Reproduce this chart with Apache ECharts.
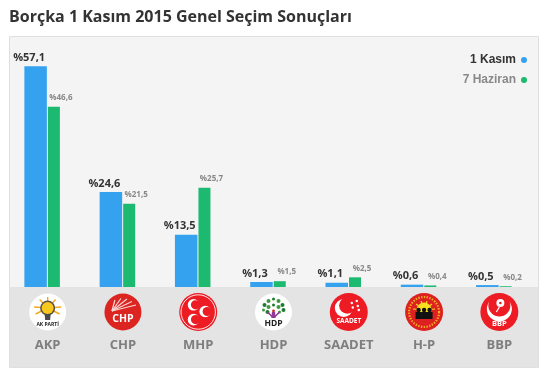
<!DOCTYPE html>
<html>
<head>
<meta charset="utf-8">
<style>html,body{margin:0;padding:0;background:#fff}#c{width:550px;height:385px}</style>
<script src="https://cdn.jsdelivr.net/npm/echarts@6/dist/echarts.min.js"></script>
</head>
<body>
<div id="c"></div>
<script>
const categories = ['AKP','CHP','MHP','HDP','SAADET','H-P','BBP'];
const kasim = [57.1,24.6,13.5,1.3,1.1,0.6,0.5];
const haziran = [46.6,21.5,25.7,1.5,2.5,0.4,0.2];
const seriesNames = ['1 Kasım','7 Haziran'];
const titleText = 'Borçka 1 Kasım 2015 Genel Seçim Sonuçları';

const gridLeft = 10, gridWidth = 527, gridBottomY = 287, gridTopY = 55;
const step = gridWidth / categories.length;
const logoY = 312;
const RED = '#ed1c24';

const pct = v => '%' + String(v).replace('.', ',');
const circ = (cx,cy,r,fill,extra) => Object.assign({type:'circle',shape:{cx,cy,r},style:{fill}},extra||{});
const ring = (cx,cy,r,stroke,lw,dash) => ({type:'circle',shape:{cx,cy,r},style:{fill:'none',stroke,lineWidth:lw,lineDash:dash||null}});
const txt = (x,y,text,size,fill,family) => ({type:'text',x,y,style:{text,fill,font:'bold '+size+'px '+(family||'"Open Sans"'),align:'center',verticalAlign:'middle'}});
const poly = (points,fill) => ({type:'polygon',shape:{points},style:{fill}});
const line = (x1,y1,x2,y2,stroke,lw) => ({type:'line',shape:{x1,y1,x2,y2},style:{stroke,lineWidth:lw}});

function akp(){
  const c=[circ(0,0,18.5,'#fff')];
  const rays=[[0,-15],[-8,-12.5],[8,-12.5],[-13.5,-5],[13.5,-5],[-12,2],[12,2]];
  rays.forEach(p=>c.push(line(0,-4,p[0],p[1],'#f6a81c',1.4)));
  c.push(circ(0,-4,7.5,'#5a5048'));
  c.push(circ(0,-4,6,'#f9c81e'));
  c.push(poly([[-3,2],[3,2],[2.5,8],[-2.5,8]],'#4a4a4a'));
  c.push(txt(0,13,'AK PARTİ',5,'#222'));
  return c;
}
function chp(){
  const c=[circ(0,0,18.5,'#dc2420')];
  [[-10,-13],[-4,-14.5],[2,-14],[7,-11.5],[11,-8]].forEach(p=>c.push(line(-11,-1,p[0]+2,p[1]+1,'#f6d9d6',1.2)));
  c.push(txt(0,7.5,'CHP',10.5,'#fff'));
  return c;
}
function mhp(){
  const c=[circ(0,0,19,RED),ring(0,0,17.2,'#fff',0.9)];
  [[-4.7,-7.2],[7,-0.5],[-4.7,7.6]].forEach(p=>{
    c.push(circ(p[0],p[1],5.8,'#fff'));
    c.push(circ(p[0]+2,p[1],4.6,RED));
  });
  return c;
}
function hdp(){
  const c=[circ(0,0,18.5,'#fff')];
  [[-9,-7],[-5,-11],[0,-13],[5,-11],[9,-7],[-10,-2],[10,-2],[-5,-5],[0,-7],[5,-5],[-6,0],[6,0]].forEach((p,i)=>
    c.push(circ(p[0],p[1],i%3===2?1.5:2,i%2?'#3d9a3c':'#1f7a33')));
  c.push(circ(0,-1,1.4,'#d2232a'));
  c.push(poly([[-1.6,0],[1.6,0],[2,6],[-2,6]],'#8e3a96'));
  c.push(line(-1,5,-6,0,'#8e3a96',1.6));
  c.push(line(1,5,6,0,'#8e3a96',1.6));
  c.push(txt(0,11.5,'HDP',8.5,'#222'));
  return c;
}
function saadet(){
  const c=[circ(0,0,19,RED)];
  c.push(circ(-5,-4,9,'#fff'));
  c.push(circ(-1.5,-6.5,8.2,RED));
  [[3,-9],[8,-11],[9,-6],[4,-4.5],[10,-2]].forEach(p=>c.push(circ(p[0],p[1],1.2,'#fff')));
  c.push(txt(0,9.5,'SAADET',6.5,'#fff'));
  return c;
}
function hp(){
  const c=[circ(0,0,19,'#dd2020'),ring(0,0,15,'#f0b020',2.2,[1.4,1.4])];
  [[-11,-3],[-8,-8],[-3,-11],[3,-11],[8,-8],[11,-3]].forEach(p=>c.push(line(0,-2,p[0],p[1],'#f8d81e',1.2)));
  c.push(circ(0,-2,7.5,'#f8e01e'));
  [-5.5,0,5.5].forEach(x=>{
    c.push(circ(x,-2,2.2,'#111'));
    c.push(poly([[x-3,0],[x+3,0],[x+3,7],[x-3,7]],'#111'));
  });
  return c;
}
function bbp(){
  const c=[circ(0,0,19,RED)];
  c.push(circ(0,-3,12.5,'#fff'));
  c.push(circ(0,-6.5,11,RED));
  c.push(circ(1,-9,4,'#fff'));
  c.push(circ(1,-9,1.3,RED));
  c.push(line(0,-5,-3,0,'#fff',1.3));
  c.push(txt(0,12,'BBP',7.5,'#fff'));
  return c;
}
const logos=[akp,chp,mhp,hdp,saadet,hp,bbp].map((fn,i)=>({
  type:'group',x:gridLeft+step*(i+0.5),y:logoY,z:5,silent:true,children:fn()
}));

const chart = echarts.init(document.getElementById('c'),null,{renderer:'canvas'});
chart.setOption({
  animation:false,
  backgroundColor:'#fff',
  title:{text:titleText,left:9,top:9.5,padding:0,textStyle:{fontFamily:'"Open Sans"',fontWeight:'bold',fontSize:16,color:'#333'}},
  legend:{
    data:[
      {name:seriesNames[0],textStyle:{color:'#333'}},
      {name:seriesNames[1],textStyle:{color:'#888'}}
    ],
    orient:'vertical',right:23,top:54,align:'right',itemWidth:6,itemHeight:6,itemGap:8,icon:'circle',selectedMode:false,
    padding:0,
    textStyle:{fontFamily:'"Liberation Sans"',fontWeight:'bold',fontSize:12,padding:[0,0,0,0]}
  },
  grid:{left:gridLeft,width:gridWidth,top:gridTopY,height:gridBottomY-gridTopY,containLabel:false},
  xAxis:{
    type:'category',data:categories,
    axisLine:{show:false},axisTick:{show:false},splitLine:{show:false},
    axisLabel:{interval:0,margin:52,fontFamily:'"Open Sans"',fontWeight:'bold',fontSize:13,color:'#7e7e7e'}
  },
  yAxis:{type:'value',min:0,max:60,show:false,splitLine:{show:false}},
  graphic:[
    {type:'rect',z:-10,shape:{x:9.5,y:36.5,width:529,height:331},style:{fill:'#f4f4f4',stroke:'#dfdfdf',lineWidth:1}},
    {type:'rect',z:-9,shape:{x:10,y:287,width:528,height:80},style:{fill:'#e4e4e4'}}
  ].concat(logos),
  series:[
    {name:seriesNames[0],type:'bar',data:kasim,barWidth:22.5,barGap:'4.5%',
     itemStyle:{color:'#35a2ef'},
     label:{show:true,position:'top',distance:3,offset:[-6.5,0],formatter:p=>pct(p.value),fontFamily:'"Open Sans"',fontWeight:'bold',fontSize:11,color:'#333'}},
    {name:seriesNames[1],type:'bar',data:haziran,barWidth:12,
     itemStyle:{color:'#1cb970'},
     label:{show:true,position:'top',distance:5,offset:[7,0],formatter:p=>pct(p.value),fontFamily:'"Open Sans"',fontWeight:'bold',fontSize:8,color:'#888'}},
    {name:'spacer',type:'bar',data:[],barWidth:10.5}
  ]
});
</script>
</body>
</html>
